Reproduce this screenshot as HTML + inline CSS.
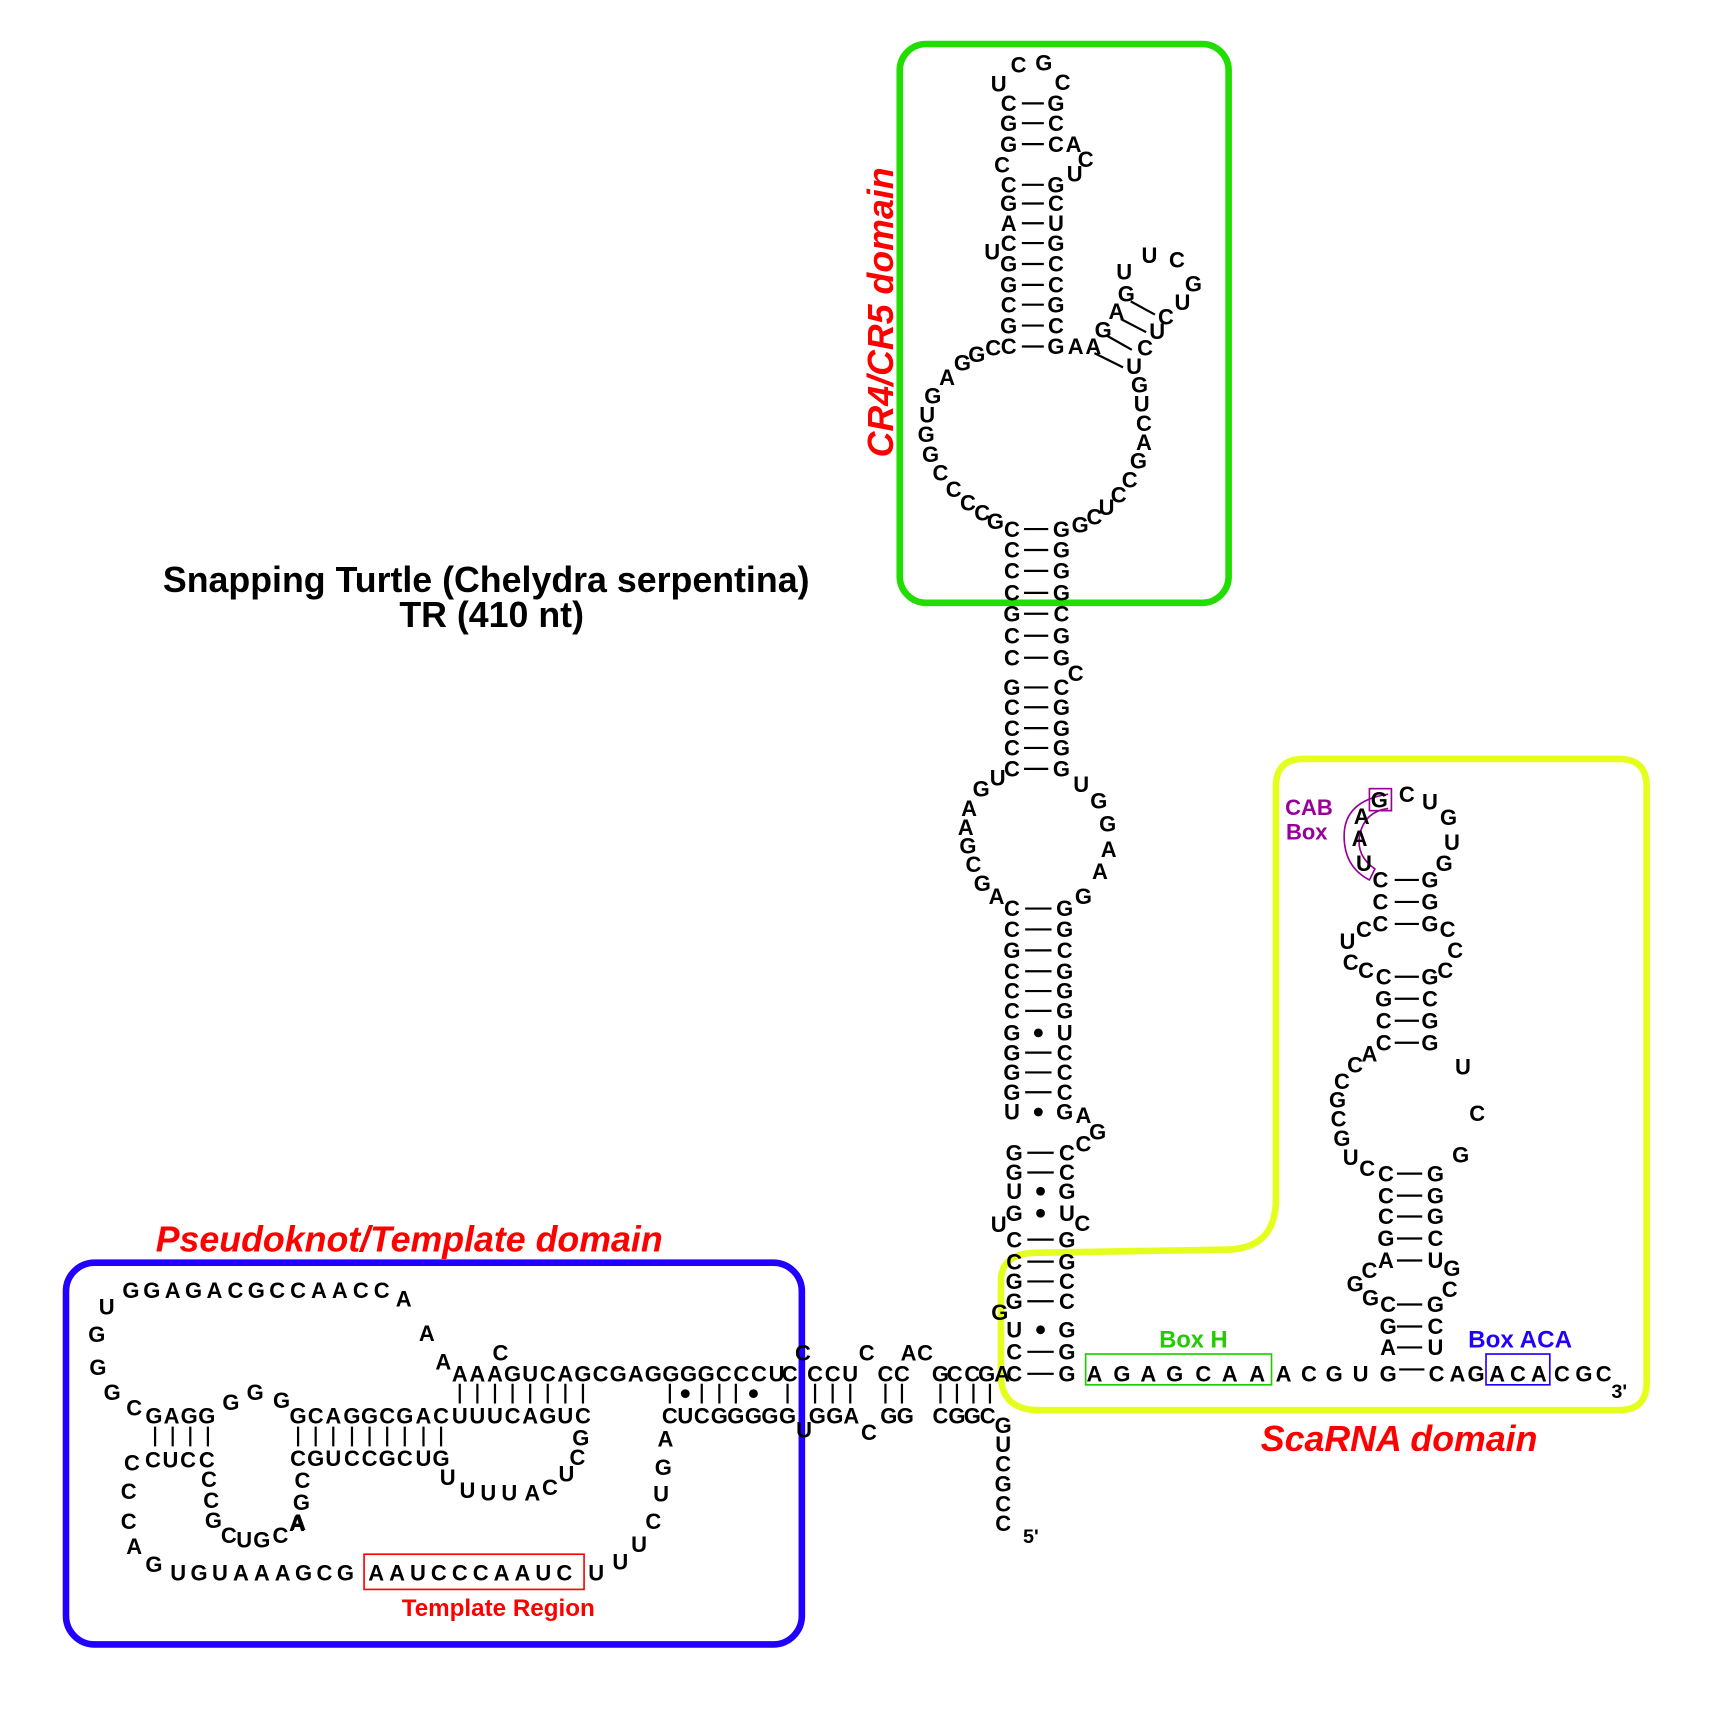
<!DOCTYPE html>
<html><head><meta charset="utf-8"><style>
html,body{margin:0;padding:0;background:#fff}
svg{display:block}
.n{font-family:"Liberation Sans",sans-serif;font-weight:bold;font-size:20px;text-anchor:middle;fill:#000}
</style></head><body>
<svg width="1728" height="1728" viewBox="0 0 1571 1571" xmlns="http://www.w3.org/2000/svg">
<!-- boxes -->
<rect x="818" y="40" width="299" height="508" rx="24" fill="none" stroke="#22dd00" stroke-width="6"/>
<path d="M1185,690 H1472 Q1497,690 1497,715 V1257 Q1497,1282 1472,1282 H945 Q910,1282 910,1250 V1165 Q910,1140 940,1139 L1118,1136 Q1160,1134 1160,1090 V715 Q1160,690 1185,690 Z" fill="none" stroke="#e4ff1e" stroke-width="6"/>
<rect x="60" y="1148" width="669" height="347" rx="26" fill="none" stroke="#2200ff" stroke-width="6"/>
<rect x="987" y="1231" width="169" height="28" fill="none" stroke="#22cc00" stroke-width="1.5"/>
<rect x="1351" y="1231" width="58" height="28" fill="none" stroke="#2200ff" stroke-width="1.5"/>
<rect x="331" y="1413" width="200" height="32" fill="none" stroke="#ff0000" stroke-width="1.5"/>
<rect x="1245" y="717" width="20" height="20" fill="none" stroke="#990099" stroke-width="1.5"/>
<path d="M1262,722 Q1222,728 1222,760 Q1222,788 1245,800 L1250,790 Q1233,778 1236,760 Q1240,738 1262,735" fill="none" stroke="#990099" stroke-width="1.5"/>

<!-- labels -->
<g font-family="Liberation Sans, sans-serif" font-weight="bold">
<text x="442" y="538" font-size="32.5" text-anchor="middle">Snapping Turtle (Chelydra serpentina)</text>
<text x="447" y="570" font-size="32.5" text-anchor="middle">TR (410 nt)</text>
<text transform="translate(812,284) rotate(-90)" font-size="32.5" font-style="italic" fill="#ff0000" text-anchor="middle">CR4/CR5 domain</text>
<text x="372" y="1138" font-size="32.5" font-style="italic" fill="#ff0000" text-anchor="middle">Pseudoknot/Template domain</text>
<text x="1272" y="1319" font-size="32.5" font-style="italic" fill="#ff0000" text-anchor="middle">ScaRNA domain</text>
<text x="453" y="1469" font-size="22" fill="#ff0000" text-anchor="middle">Template Region</text>
<text x="1085" y="1225" font-size="21.5" fill="#22cc00" text-anchor="middle">Box H</text>
<text x="1382" y="1225" font-size="22" fill="#2200ff" text-anchor="middle">Box ACA</text>
<text x="1190" y="741" font-size="20" fill="#990099" text-anchor="middle">CAB</text>
<text x="1188" y="763" font-size="20" fill="#990099" text-anchor="middle">Box</text>
<text x="930" y="1403" font-size="18">5'</text>
<text x="1465" y="1271" font-size="18">3'</text>
</g>

<!-- bonds -->
<g stroke="#000" stroke-width="2">
<path d="M929,94H949M929,112H949M929,131H949M929,168H949M929,185H949M929,203H949M929,221H949M929,240H949M929,259H949M929,277H949M929,296H949M929,315H949"/>
<path d="M931,481H953M931,500H953M931,519H953M931,539H953M931,558H953M931,578H953M931,598H953M931,625H953M931,643H953M931,662H953M931,680H953M931,699H953"/>
<path d="M932,826H956M932,845H956M932,864H956M932,883H956M932,901H956M932,919H956M932,957H956M932,975H956M932,993H956"/>
<path d="M934,1048H958M934,1066H958M934,1127H958M934,1147H958M934,1165H958M934,1183H958M934,1229H958M934,1249H958"/>
<path d="M1006,305L1029,318M1019,290L1042,302M1028,274L1050,286M995,321L1021,334"/>
<path d="M1268,800H1290M1268,820H1290M1268,840H1290M1268,888H1290M1268,908H1290M1268,928H1290M1268,948H1290M1270,1067H1293M1270,1087H1293M1270,1106H1293M1270,1126H1293M1270,1146H1293M1270,1186H1293M1270,1206H1293M1270,1225H1293M1272,1245H1295"/>
<path d="M141,1297V1315M157,1297V1315M173,1297V1315M189,1297V1315"/>
<path d="M271,1297V1315M287,1297V1315M303,1297V1315M320,1297V1315M336,1297V1315M352,1297V1315M368,1297V1315M385,1297V1315M401,1297V1315"/>
<path d="M418,1258V1276M434,1258V1276M450,1258V1276M466,1258V1276M482,1258V1276M498,1258V1276M514,1258V1276M530,1258V1276"/>
<path d="M609,1258V1276M638,1258V1276M654,1258V1276M669,1258V1276M716,1258V1276"/>
<path d="M741,1258V1276M757,1258V1276M773,1258V1276M805,1258V1276M820,1258V1276M855,1258V1276M870,1258V1276M885,1258V1276M900,1258V1276"/>
</g>
<g fill="#000">
<circle cx="944" cy="939" r="4"/><circle cx="944" cy="1011" r="4"/>
<circle cx="946" cy="1083" r="4"/><circle cx="946" cy="1103" r="4"/><circle cx="946" cy="1209" r="4"/>
<circle cx="623" cy="1267" r="4"/><circle cx="685" cy="1267" r="4"/>
</g>

<!-- nucleotides -->
<g transform="translate(0,7)" class="n">
<text class="n" x="908 926 949 966" y="76 59 57 75">UCGC</text>
<text class="n" x="917" y="94">C</text><text class="n" x="917" y="112">G</text><text class="n" x="917" y="131">G</text>
<text class="n" x="911" y="150">C</text>
<text class="n" x="917" y="168">C</text><text class="n" x="917" y="185">G</text><text class="n" x="917" y="203">A</text>
<text class="n" x="917" y="221">C</text><text class="n" x="917" y="240">G</text><text class="n" x="917" y="259">G</text>
<text class="n" x="917" y="277">C</text><text class="n" x="917" y="296">G</text><text class="n" x="917" y="315">C</text>
<text class="n" x="960" y="94">G</text><text class="n" x="960" y="112">C</text><text class="n" x="960" y="131">C</text>
<text class="n" x="960" y="168">G</text><text class="n" x="960" y="185">C</text><text class="n" x="960" y="203">U</text>
<text class="n" x="960" y="221">G</text><text class="n" x="960" y="240">C</text><text class="n" x="960" y="259">C</text>
<text class="n" x="960" y="277">G</text><text class="n" x="960" y="296">C</text><text class="n" x="960" y="315">G</text>
<text class="n" x="976 987 977 902" y="131 145 158 229">ACUU</text>
<text class="n" x="978 994" y="315 315">AA</text>
<text class="n" x="903 888 875 861 848 843 842 846 855 867 880 893 905" y="316 322 330 343 360 377 395 413 430 445 457 466 474">CGGAGUGGCCCCG</text>
<text class="n" x="1003 1015 1024 1022 1045 1070 1085 1075 1060 1052 1041" y="300 283 267 247 232 236 258 275 288 301 316">GAGUUCGUCUC</text>
<text class="n" x="1031 1036 1038 1040 1040 1035 1027 1017 1006 995 982" y="333 350 367 385 402 419 436 450 461 470 477">UGUCAGCCUCG</text>
<text class="n" x="920" y="481">C</text><text class="n" x="920" y="500">C</text><text class="n" x="920" y="519">C</text><text class="n" x="920" y="539">C</text>
<text class="n" x="920" y="558">G</text><text class="n" x="920" y="578">C</text><text class="n" x="920" y="598">C</text><text class="n" x="920" y="625">G</text>
<text class="n" x="920" y="643">C</text><text class="n" x="920" y="662">C</text><text class="n" x="920" y="680">C</text><text class="n" x="920" y="699">C</text>
<text class="n" x="965" y="481">G</text><text class="n" x="965" y="500">G</text><text class="n" x="965" y="519">G</text><text class="n" x="965" y="539">G</text>
<text class="n" x="965" y="558">C</text><text class="n" x="965" y="578">G</text><text class="n" x="965" y="598">G</text><text class="n" x="965" y="625">C</text>
<text class="n" x="965" y="643">G</text><text class="n" x="965" y="662">G</text><text class="n" x="965" y="680">G</text><text class="n" x="965" y="699">G</text>
<text class="n" x="978" y="612">C</text>
<text class="n" x="907 892 881 878 880 885 893 906" y="707 717 735 752 769 786 803 815">UGAAGCGA</text>
<text class="n" x="983 999 1007 1008 1000 985" y="713 728 749 772 792 815">UGGAAG</text>
<text class="n" x="920" y="826">C</text><text class="n" x="920" y="845">C</text><text class="n" x="920" y="864">G</text><text class="n" x="920" y="883">C</text>
<text class="n" x="920" y="901">C</text><text class="n" x="920" y="919">C</text><text class="n" x="920" y="939">G</text><text class="n" x="920" y="957">G</text>
<text class="n" x="920" y="975">G</text><text class="n" x="920" y="993">G</text><text class="n" x="920" y="1011">U</text>
<text class="n" x="968" y="826">G</text><text class="n" x="968" y="845">G</text><text class="n" x="968" y="864">C</text><text class="n" x="968" y="883">G</text>
<text class="n" x="968" y="901">G</text><text class="n" x="968" y="919">G</text><text class="n" x="968" y="939">U</text><text class="n" x="968" y="957">C</text>
<text class="n" x="968" y="975">C</text><text class="n" x="968" y="993">C</text><text class="n" x="968" y="1011">G</text>
<text class="n" x="985 998 985" y="1014 1029 1040">AGC</text>
<text class="n" x="922" y="1048">G</text><text class="n" x="922" y="1066">G</text><text class="n" x="922" y="1083">U</text><text class="n" x="922" y="1103">G</text>
<text class="n" x="922" y="1127">C</text><text class="n" x="922" y="1147">C</text><text class="n" x="922" y="1165">G</text><text class="n" x="922" y="1183">G</text>
<text class="n" x="922" y="1209">U</text><text class="n" x="922" y="1229">C</text><text class="n" x="922" y="1249">C</text>
<text class="n" x="970" y="1048">C</text><text class="n" x="970" y="1066">C</text><text class="n" x="970" y="1083">G</text><text class="n" x="970" y="1103">U</text>
<text class="n" x="970" y="1127">G</text><text class="n" x="970" y="1147">G</text><text class="n" x="970" y="1165">C</text><text class="n" x="970" y="1183">C</text>
<text class="n" x="970" y="1209">G</text><text class="n" x="970" y="1229">G</text><text class="n" x="970" y="1249">G</text>
<text class="n" x="984 908 909" y="1112 1113 1193">CUG</text>
<text class="n" x="912 912 912 912 912 912" y="1296 1313 1331 1349 1367 1385">GUCGCC</text>
<text class="n" x="995 1020 1044 1068 1094 1118 1143 1167 1190 1213 1237 1262" y="1249">AGAGCAAACGUG</text>
<text class="n" x="1306 1325 1342 1361 1380 1399 1420 1440 1458" y="1249">CAGACACGC</text>
<text class="n" x="1254 1279 1300 1317 1320 1313" y="727 722 729 743 766 785">GCUGUG</text>
<text class="n" x="1238 1236 1240" y="742 762 785">AAU</text>
<text class="n" x="1255 1255 1255" y="800 820 840">CCC</text>
<text class="n" x="1300 1300 1300" y="800 820 840">GGG</text>
<text class="n" x="1316 1323 1314" y="845 864 882">CCC</text>
<text class="n" x="1240 1225 1228 1242" y="845 856 875 882">CUCC</text>
<text class="n" x="1258 1258 1258 1258" y="888 908 928 948">CGCC</text>
<text class="n" x="1300 1300 1300 1300" y="888 908 928 948">GCGG</text>
<text class="n" x="1245 1232 1220 1216 1217 1220 1228 1243" y="958 968 983 1000 1017 1035 1052 1062">ACCGCGUC</text>
<text class="n" x="1330 1343 1328" y="970 1012 1050">UCG</text>
<text class="n" x="1260 1260 1260 1260 1260" y="1067 1087 1106 1126 1146">CCCGA</text>
<text class="n" x="1305 1305 1305 1305 1305" y="1067 1087 1106 1126 1146">GGGCU</text>
<text class="n" x="1320 1318 1245 1232 1246" y="1153 1172 1155 1167 1180">GCCGG</text>
<text class="n" x="1262 1262 1262" y="1186 1206 1225">CGA</text>
<text class="n" x="1305 1305 1305" y="1186 1206 1225">GCU</text>
<text class="n" x="97 119 138 157 176 195 214 233 252 271 290 309 328 347" y="1188 1173 1173 1173 1173 1173 1173 1173 1173 1173 1173 1173 1173 1173">UGGAGACGCCAACC</text>
<text class="n" x="367 388 403" y="1181 1212 1238">AAA</text>
<text class="n" x="88 89 102 122" y="1213 1243 1266 1280">GGGC</text>
<text class="n" x="140 156 172 188" y="1287">GAGG</text>
<text class="n" x="210 232 256" y="1275 1266 1273">GGG</text>
<text class="n" x="120 139 155 171 188" y="1330 1327 1327 1327 1327">CCUCC</text>
<text class="n" x="190 192 194 208 222 238 255 270" y="1345 1364 1382 1396 1400 1400 1396 1385">CCGCUGCA</text>
<text class="n" x="117 117 122 140" y="1356 1383 1406 1422">CCAG</text>
<text class="n" x="162 181 200 219 238 257 276 295 314 342 361 380 399 418 437 456 475 494 513 542 564 581 594 601 603 605" y="1430 1430 1430 1430 1430 1430 1430 1430 1430 1430 1430 1430 1430 1430 1430 1430 1430 1430 1430 1430 1420 1404 1383 1358 1334 1308">UGUAAAGCGAAUCCCAAUCUUUCUGA</text>
<text class="n" x="271 287 303 320 336 352 368 385 401 418 434 450 466 482 498 514 530" y="1287">GCAGGCGACUUUCAGUC</text>
<text class="n" x="271 287 303 320 336 352 368 385 401" y="1326">CGUCCGCUG</text>
<text class="n" x="275 274 271" y="1346 1366 1384">CGA</text>
<text class="n" x="407 425 444 463 484 500 515 525 528" y="1343 1355 1357 1357 1357 1352 1340 1325 1307">UUUUACUCG</text>
<text class="n" x="418 434 450 466 482 498 514 530 546 562 578 594 610 626 642 658 674 690 706 718" y="1249">AAAGUCAGCGAGGGGCCCUC</text>
<text class="n" x="455" y="1230">C</text>
<text class="n" x="609 623 638 654 669 685 700 716" y="1287">CUCGGGGG</text>
<text class="n" x="730 741 757 773 788 805 820 826 841 855 868 884 897 911" y="1230 1249 1249 1249 1230 1249 1249 1230 1230 1249 1249 1249 1249 1249">CCCUCCCACGCCGA</text>
<text class="n" x="743 759 774 731 790 808 823 855 870 884 898" y="1287 1287 1287 1300 1302 1287 1287 1287 1287 1287 1287">GGAUCGGCGGC</text>
</g>
</svg>
</body></html>
